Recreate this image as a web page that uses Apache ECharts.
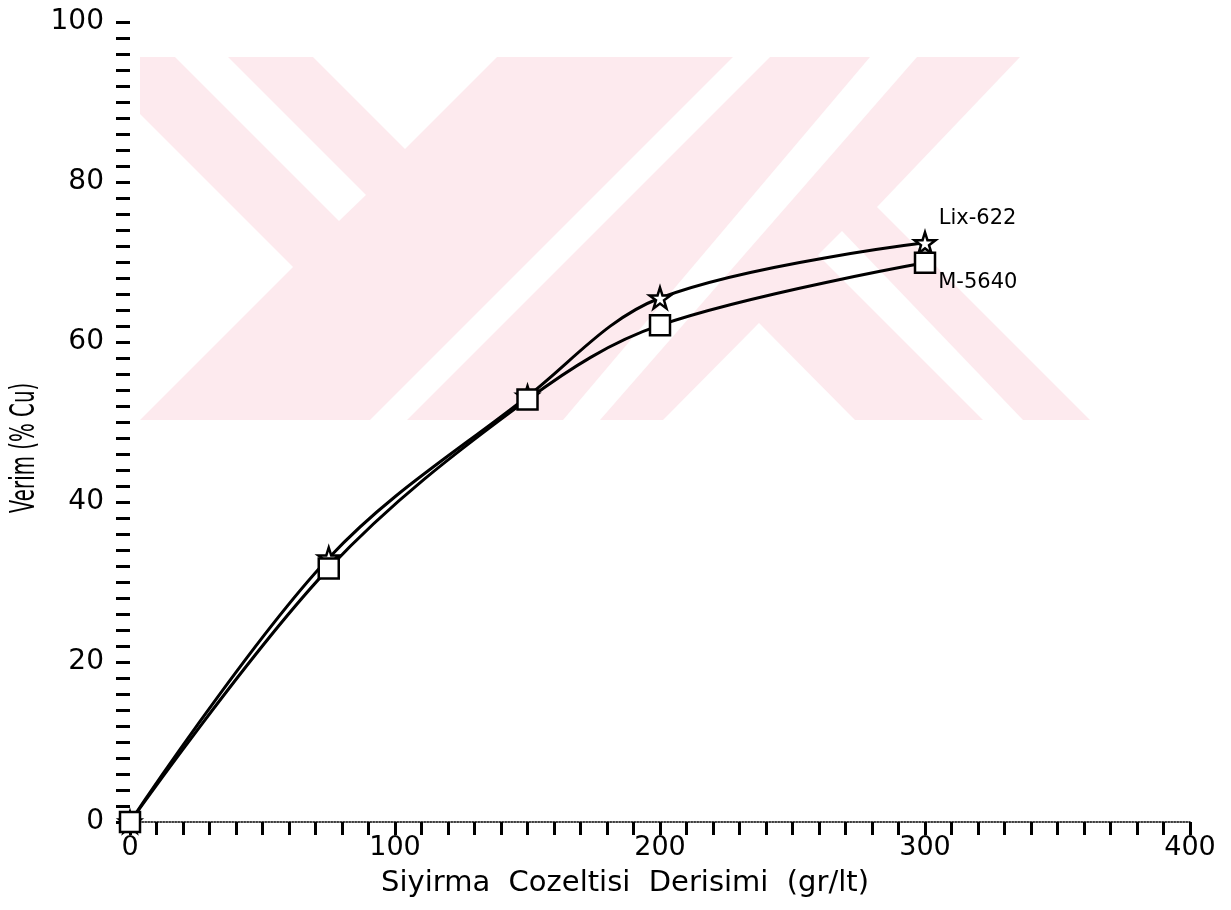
<!DOCTYPE html>
<html>
<head>
<meta charset="utf-8">
<script src="https://cdn.jsdelivr.net/npm/echarts@6/dist/echarts.min.js"></script>
<style>
    html, body { margin: 0; padding: 0; background: #fff; }
    #chart { width: 1231px; height: 910px; }
</style>
</head>
<body>
<div id="chart"></div>
<script>
// Siyirma cozeltisi derisimine gore verim egrileri
const concentrations = [0, 75, 150, 200, 300]
const lix622 = [0, 33, 53.2, 65.5, 72.4]
const m5640 = [0, 31.7, 52.8, 62.1, 69.9]
const seriesNames = ['Lix-622', 'M-5640']

const FONT = 'DejaVu Sans'
const INK = '#000'
const PINK = '#fdeaee'

// arka plandaki soluk filigran (pembe bant + beyaz kesikler)
const watermarkBand = { x: 140, y: 57, width: 995, height: 363 }
const watermarkCuts = [
    [[140, 114], [293, 267], [140, 420]],
    [[175, 57], [228, 57], [366, 195], [339, 221]],
    [[313, 57], [497, 57], [405, 149]],
    [[733, 57], [770, 57], [407, 420], [370, 420]],
    [[870, 57], [917, 57], [600, 420], [563, 420]],
    [[1020, 57], [1136, 57], [1136, 421], [1091, 421], [877, 207]],
    [[818, 255], [842, 231], [1024, 421], [984, 421]],
    [[759, 323], [856, 421], [662, 421]]
]

const starPath = 'path://M50,2 L61,36 L97,36 L68,57 L79,92 L50,71 L21,92 L32,57 L3,36 L39,36 Z'

const chart = echarts.init(document.getElementById('chart'))

const endLabel = (dy) => ({
    show: true,
    position: 'right',
    distance: 2,
    offset: [0, dy],
    fontFamily: FONT,
    fontSize: 21,
    color: INK,
    formatter: p => p.dataIndex === concentrations.length - 1 ? p.seriesName : ''
})

const graphics = [{
    type: 'rect',
    silent: true,
    z: -10,
    shape: watermarkBand,
    style: { fill: PINK }
}].concat(watermarkCuts.map(pts => ({
    type: 'polygon',
    silent: true,
    z: -9,
    shape: { points: pts },
    style: { fill: '#fff' }
})))

graphics.push({
    type: 'text',
    silent: true,
    x: 25,
    y: 448,
    rotation: Math.PI / 2,
    scaleX: 0.6,
    style: {
        text: 'Verim (% Cu)',
        font: '33px "DejaVu Sans"',
        fill: INK,
        textAlign: 'center',
        textVerticalAlign: 'middle'
    }
})

const option = {
    backgroundColor: '#fff',
    animation: false,
    graphic: graphics,
    grid: { left: 130, right: 41, top: 22, bottom: 88 },
    xAxis: {
        type: 'value',
        min: 0,
        max: 400,
        interval: 100,
        name: 'Siyirma  Cozeltisi  Derisimi  (gr/lt)',
        nameLocation: 'middle',
        nameGap: 47,
        nameTextStyle: {
            fontFamily: FONT,
            fontSize: 29,
            color: INK,
            padding: [0, 70, 0, 0]
        },
        axisLine: { show: true, lineStyle: { color: INK, width: 1.5, type: 'dotted' } },
        axisTick: { show: true, length: 13, lineStyle: { color: INK, width: 3 } },
        minorTick: { show: true, splitNumber: 10, length: 13, lineStyle: { color: INK, width: 3 } },
        splitLine: { show: false },
        axisLabel: { margin: 12, fontFamily: FONT, fontSize: 27, color: INK }
    },
    yAxis: {
        type: 'value',
        min: 0,
        max: 100,
        interval: 20,
        axisLine: { show: false },
        axisTick: { show: true, length: 14, lineStyle: { color: INK, width: 3 } },
        minorTick: { show: true, splitNumber: 10, length: 14, lineStyle: { color: INK, width: 3 } },
        splitLine: { show: false },
        axisLabel: { margin: 26, fontFamily: FONT, fontSize: 28, color: INK }
    },
    series: [
        {
            name: seriesNames[0],
            type: 'line',
            smooth: 0.35,
            data: concentrations.map((x, i) => [x, lix622[i]]),
            symbol: starPath,
            symbolSize: 21,
            lineStyle: { color: INK, width: 3 },
            itemStyle: { color: '#fff', borderColor: INK, borderWidth: 2.5 },
            label: endLabel(-24),
            z: 3
        },
        {
            name: seriesNames[1],
            type: 'line',
            smooth: 0.35,
            data: concentrations.map((x, i) => [x, m5640[i]]),
            symbol: 'rect',
            symbolSize: 20,
            lineStyle: { color: INK, width: 3 },
            itemStyle: { color: '#fff', borderColor: INK, borderWidth: 2.5 },
            label: endLabel(20),
            z: 4
        }
    ]
}

chart.setOption(option)

window.addEventListener('resize', () => {
    chart && chart.resize()
})
</script>
</body>
</html>
